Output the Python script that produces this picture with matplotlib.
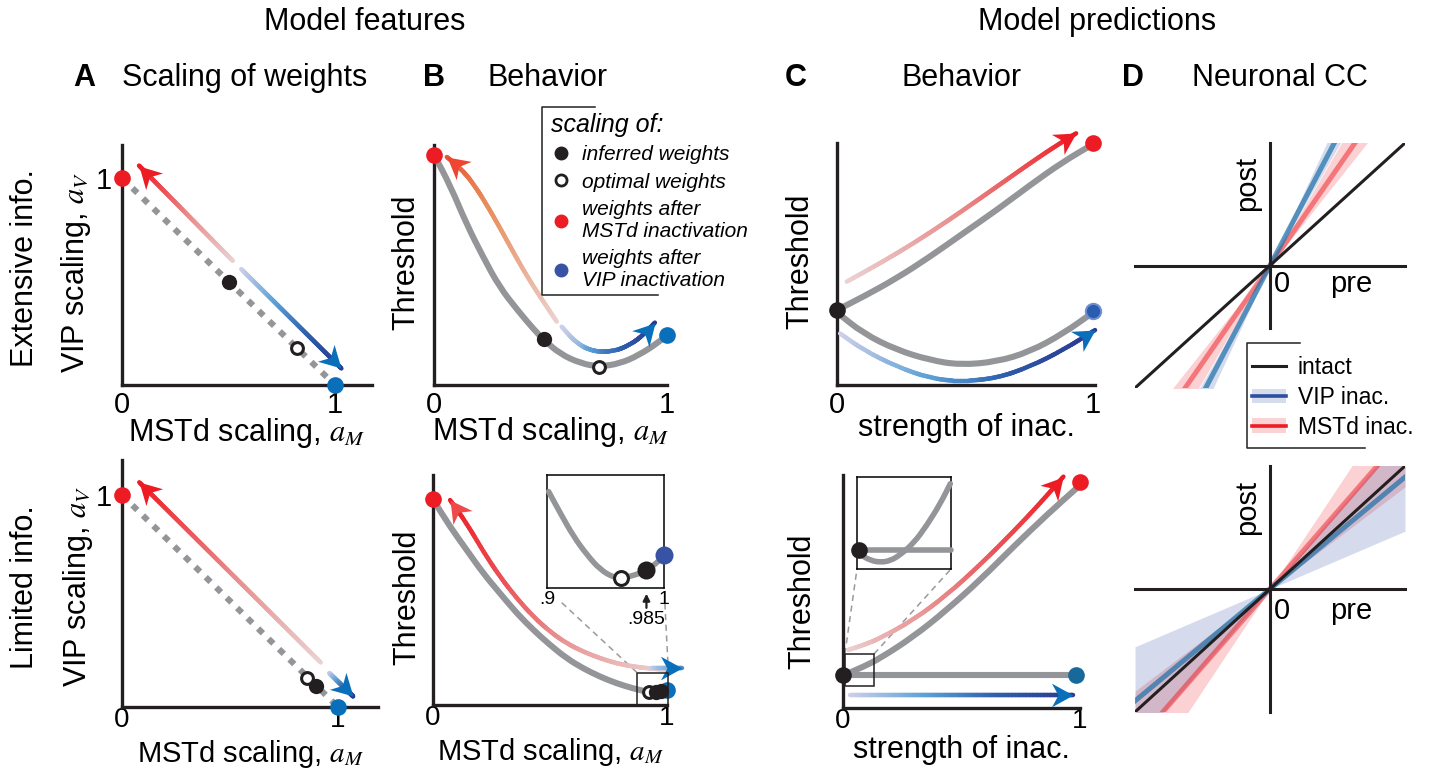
import numpy as np
import matplotlib
matplotlib.use('Agg')
import matplotlib.pyplot as plt
from matplotlib.collections import LineCollection
from matplotlib.colors import LinearSegmentedColormap
from matplotlib.lines import Line2D
from matplotlib.markers import MarkerStyle
from matplotlib.patches import Patch, Rectangle
from matplotlib.path import Path
from matplotlib.transforms import Affine2D

plt.rcParams['font.family'] = ['Liberation Sans', 'DejaVu Sans']
plt.rcParams['mathtext.fontset'] = 'stix'

W, H = 1430, 771

# ---------------- values ----------------
# A: scaling of weights, x = MSTd scaling a_M, y = VIP scaling a_V
a_diag_m = [0.0, 1.0]
a_diag_v = [1.0, 0.0]
a_top_inferred = [0.50, 0.50]
a_top_optimal = [0.82, 0.18]
a_top_red_m = [0.52, 0.08]
a_top_red_v = [0.60, 1.06]
a_top_blue_m = [0.56, 1.03]
a_top_blue_v = [0.56, 0.08]
a_bot_inferred = [0.90, 0.10]
a_bot_optimal = [0.855, 0.135]
a_bot_red_m = [0.92, 0.08]
a_bot_red_v = [0.21, 1.06]
a_bot_blue_m = [0.96, 1.07]
a_bot_blue_v = [0.16, 0.05]

# B: threshold vs MSTd scaling
b_top_am = [0, .07, .14, .21, .28, .36, .43, .47, .54, .63, .71, .80, .88, .96, 1.0]
b_top_thr = [.96, .83, .67, .535, .41, .31, .23, .19, .13, .09, .076, .09, .125, .175, .21]
b_top_inferred = [0.47, 0.19]
b_top_optimal = [0.71, 0.076]
b_top_mstd = [0.0, 0.96]
b_top_vip = [1.0, 0.21]
b_top_red_x = [.527, .455, .383, .312, .240, .169, .112, .055]
b_top_red_y = [.264, .368, .479, .604, .729, .840, .905, .950]
b_top_blue_x = [.548, .611, .684, .770, .841, .898, .948]
b_top_blue_y = [.243, .174, .139, .139, .167, .208, .260]

b_bot_am = [0, .073, .144, .215, .286, .358, .429, .5, .571, .642, .714, .785, .856, .913, .977, 1.0]
b_bot_thr = [.894, .775, .674, .572, .486, .399, .326, .261, .203, .159, .123, .094, .072, .058, .058, .065]
b_bot_optimal = [0.925, 0.058]
b_bot_inferred_x = [0.955, 0.975]
b_bot_inferred_y = [0.058, 0.060]
b_bot_mstd = [0.0, 0.894]
b_bot_vip = [1.0, 0.065]
b_bot_red_x = [.999, .927, .856, .785, .714, .642, .571, .5, .429, .358, .286, .215, .144, .073]
b_bot_red_y = [.152, .159, .167, .181, .203, .232, .268, .319, .384, .464, .558, .667, .790, .891]
b_bot_blue_x = [.93, 1.0, 1.063]
b_bot_blue_y = [.16, .16, .16]

b_ins_am = [.9014, .9114, .9227, .9341, .9455, .9568, .9631, .9739, .9852, .9938, 1.0]
b_ins_thr = [.853, .662, .456, .294, .162, .094, .088, .109, .156, .221, .291]
b_ins_optimal = [0.963, 0.088]
b_ins_inferred = [0.985, 0.156]
b_ins_vip = [1.0, 0.291]

# C: threshold vs strength of inactivation
c_top_s = [0, .103, .233, .363, .493, .624, .754, .884, .995]
c_top_mstd_thr = [.31, .365, .441, .530, .627, .723, .826, .923, .992]
c_top_vip_s = [0, .103, .233, .363, .48, .624, .754, .884, .995]
c_top_vip_thr = [.30, .213, .145, .103, .083, .096, .138, .213, .296]
c_top_red_x = [.038, .168, .298, .428, .559, .689, .819, .934]
c_top_red_y = [.427, .503, .585, .675, .771, .868, .964, 1.04]
c_top_blue_x = [.012, .103, .233, .363, .48, .624, .754, .884, 1.008]
c_top_blue_y = [.213, .145, .076, .028, .014, .028, .076, .145, .227]
c_top_intact = [0.0, 0.31]
c_top_mstd_end = [1.0, 1.0]
c_top_vip_end = [1.0, 0.306]

c_bot_s = [.005, .086, .156, .297, .438, .578, .719, .859, .993]
c_bot_mstd_thr = [.142, .177, .213, .306, .421, .549, .692, .828, .950]
c_bot_vip_s = [0.0, 0.985]
c_bot_vip_thr = [0.142, 0.142]
c_bot_red_x = [.022, .086, .156, .297, .438, .578, .719, .831, .93]
c_bot_red_y = [.249, .270, .299, .378, .485, .614, .757, .878, .993]
c_bot_blue_x = [.03, .972]
c_bot_blue_y = [.056, .056]
c_bot_intact = [0.0, 0.142]
c_bot_mstd_end = [1.0, 0.969]
c_bot_vip_end = [0.985, 0.142]

c_ins_x = [.018, .035, .142, .248, .355, .461, .603, .745, .887, .993]
c_ins_y = [.209, .155, .094, .072, .090, .155, .281, .478, .712, .928]
c_ins_flat_x = [.018, 1.0]
c_ins_flat_y = [.209, .209]

# D: neuronal CC slopes (post vs pre)
d_intact_slope = 1.0
d_top_vip = 2.10
d_top_vip_band = (1.92, 2.38)
d_top_mstd = 1.59
d_top_mstd_band = (1.39, 1.89)
d_bot_vip = 0.91
d_bot_vip_band = (0.47, 1.27)
d_bot_mstd = 1.26
d_bot_mstd_band = (0.83, 1.65)

# ---------------- styling ----------------
RED = '#ed1c24'
BLUE = '#0a6fba'
VIP_DOT = '#3953a4'
TEAL = '#17699a'
GREY = '#939598'
INK = '#231f20'
RED_GRAD = ['#ecd2d2', '#e88a8a', '#ed1c24']
ORANGE_GRAD = ['#ecd2d2', '#e8905f', '#e85530']
BLUE_GRAD = ['#cfd0ea', '#5fa2d6', '#2e5fae', '#2b3990']

fig = plt.figure(figsize=(W / 100, H / 100), dpi=100)


def px_axes(x0, y0, x1, y1):
    return fig.add_axes([x0 / W, 1 - y1 / H, (x1 - x0) / W, (y1 - y0) / H])


def fig_text(x, y, s, **kw):
    fig.text(x / W, 1 - y / H, s, ha='center', va='center', **kw)


def fig_line(xs, ys, **kw):
    fig.add_artist(Line2D([x / W for x in xs], [1 - y / H for y in ys],
                          transform=fig.transFigure, color=INK, lw=1.1, **kw))


def plain(ax):
    for s in ['top', 'right']:
        ax.spines[s].set_visible(False)
    for s in ['left', 'bottom']:
        ax.spines[s].set_linewidth(2.4)
        ax.spines[s].set_color(INK)
    ax.tick_params(length=0, labelsize=21, pad=4)
    ax.set_yticks([])


def bottom_row(ax):
    # the lower row sits close to the figure edge: tighter tick labels
    ax.tick_params(axis='x', labelsize=20, pad=0)


def smooth(ax, xs, ys):
    # quadratic bezier through the midpoints, flattened by matplotlib itself
    pts = np.column_stack([xs, ys]).astype(float)
    if len(pts) < 3:
        return pts[:, 0], pts[:, 1]
    verts = [pts[0], (pts[0] + pts[1]) / 2]
    codes = [Path.MOVETO, Path.LINETO]
    for i in range(1, len(pts) - 1):
        verts += [pts[i], (pts[i] + pts[i + 1]) / 2]
        codes += [Path.CURVE3, Path.CURVE3]
    verts.append(pts[-1])
    codes.append(Path.LINETO)
    poly = Path(verts, codes).to_polygons(transform=ax.transData, closed_only=False)[0]
    fine = ax.transData.inverted().transform(poly)
    return fine[:, 0], fine[:, 1]


def grad_line(ax, xs, ys, colors, lw=3.2, z=4):
    xs, ys = smooth(ax, xs, ys)
    k = max(6, 160 // (len(xs) - 1))
    fx = np.concatenate([np.linspace(xs[i], xs[i + 1], k, endpoint=False)
                         for i in range(len(xs) - 1)] + [xs[-1:]])
    fy = np.concatenate([np.linspace(ys[i], ys[i + 1], k, endpoint=False)
                         for i in range(len(ys) - 1)] + [ys[-1:]])
    pts = np.column_stack([fx, fy]).reshape(-1, 1, 2)
    segs = np.concatenate([pts[:-1], pts[1:]], axis=1)
    cmap = LinearSegmentedColormap.from_list('g', colors)
    lc = LineCollection(segs, colors=cmap(np.linspace(0, 1, len(segs))),
                        linewidths=lw, capstyle='round', zorder=z)
    lc.set_clip_on(False)
    ax.add_collection(lc)


HEAD = Path([(0, 0), (-1.0, 0.55), (-0.7, 0), (-1.0, -0.55), (0, 0)],
            [Path.MOVETO, Path.LINETO, Path.LINETO, Path.LINETO, Path.CLOSEPOLY])


def head(ax, xs, ys, color, size=31):
    p0 = ax.transData.transform((xs[-2], ys[-2]))
    p1 = ax.transData.transform((xs[-1], ys[-1]))
    ang = np.degrees(np.arctan2(p1[1] - p0[1], p1[0] - p0[0]))
    m = MarkerStyle(HEAD, transform=Affine2D().rotate_deg(ang))
    ax.plot(xs[-1], ys[-1], marker=m, ms=size, color=color, mec='none',
            ls='none', clip_on=False, zorder=7)


def arrow(ax, xs, ys, colors, head_color):
    grad_line(ax, xs, ys, colors)
    head(ax, xs, ys, head_color)


def dot(ax, x, y, color, ms=11):
    ax.plot(x, y, 'o', color=color, ms=ms, mec='none', ls='none',
            clip_on=False, zorder=8)


def open_dot(ax, x, y, ms=8.5):
    ax.plot(x, y, 'o', mfc='white', mec=INK, mew=2.2, ms=ms, clip_on=False, zorder=8)


def grey(ax, x, y, lw=4.4):
    fx, fy = smooth(ax, x, y)
    ax.plot(fx, fy, color=GREY, lw=lw, solid_capstyle='round',
            solid_joinstyle='round', clip_on=False, zorder=3)


# ---------------- A ----------------
def panel_a(ax, inferred, optimal, red_m, red_v, blue_m, blue_v, ylab_x, ylab_y):
    plain(ax)
    ax.plot(a_diag_m, a_diag_v, color=GREY, lw=4.4, ls=(0, (1.1, 1.3)), zorder=2)
    arrow(ax, red_m, red_v, RED_GRAD, RED)
    arrow(ax, blue_m, blue_v, BLUE_GRAD, BLUE)
    dot(ax, 0, 1, RED, 12)
    dot(ax, 1, 0, BLUE, 12)
    open_dot(ax, optimal[0], optimal[1])
    dot(ax, inferred[0], inferred[1], INK, 11)
    ax.set_xticks([0, 1], ['0', '1'])
    ax.set_yticks([1], ['1'])
    ax.tick_params(axis='y', pad=7)
    ax.set_ylabel('VIP scaling, $a_V$', fontsize=22)
    ax.yaxis.set_label_coords(ylab_x, ylab_y)


ax = px_axes(122, 145, 372, 385)
ax.set_xlim(0, 250 / 213)
ax.set_ylim(0, 240 / 207)
panel_a(ax, a_top_inferred, a_top_optimal, a_top_red_m, a_top_red_v,
        a_top_blue_m, a_top_blue_v, -0.115, 0.47)
ax.set_xlabel('MSTd scaling, $a_M$', fontsize=22)
ax.xaxis.set_label_coords(0.5, -0.13)

ax = px_axes(122, 460, 378, 707)
ax.set_xlim(0, 256 / 216)
ax.set_ylim(0, 247 / 212)
panel_a(ax, a_bot_inferred, a_bot_optimal, a_bot_red_m, a_bot_red_v,
        a_bot_blue_m, a_bot_blue_v, -0.105, 0.49)
bottom_row(ax)
ax.set_xlabel('MSTd scaling, $a_M$', fontsize=21)
ax.xaxis.set_label_coords(0.5, -0.125)

# ---------------- B ----------------
ax = px_axes(434, 145, 667, 385)
ax.set_xlim(0, 1)
ax.set_ylim(0, 1)
plain(ax)
grey(ax, b_top_am, b_top_thr)
arrow(ax, b_top_red_x, b_top_red_y, ORANGE_GRAD, '#ee4630')
arrow(ax, b_top_blue_x, b_top_blue_y, BLUE_GRAD, BLUE)
dot(ax, *b_top_mstd, RED, 12)
dot(ax, *b_top_vip, BLUE, 12)
dot(ax, *b_top_inferred, INK, 11)
open_dot(ax, *b_top_optimal)
ax.set_xticks([0, 1], ['0', '1'])
ax.set_xlabel('MSTd scaling, $a_M$', fontsize=22)
ax.set_ylabel('Threshold', fontsize=22)
ax.xaxis.set_label_coords(0.5, -0.125)
ax.yaxis.set_label_coords(-0.056, 0.51)

leg_handles = [
    Line2D([], [], ls='none', marker='o', color=INK, ms=9),
    Line2D([], [], ls='none', marker='o', mfc='white', mec=INK, mew=2, ms=8),
    Line2D([], [], ls='none', marker='o', color=RED, ms=9),
    Line2D([], [], ls='none', marker='o', color=VIP_DOT, ms=9),
]
leg_labels = ['inferred weights', 'optimal weights',
              'weights after\nMSTd inactivation', 'weights after\nVIP inactivation']
leg = fig.legend(leg_handles, leg_labels, loc='upper left',
                 bbox_to_anchor=(551 / W, 1 - 113 / H), frameon=False,
                 prop=dict(style='italic', size=15), title='scaling of:',
                 title_fontproperties=dict(style='italic', size=18),
                 alignment='left', handlelength=1.0, handletextpad=0.5,
                 labelspacing=0.4, borderpad=0, borderaxespad=0)
for t in leg.get_texts():
    t.set_linespacing(1.2)
fig_line([595, 541.7, 541.7, 658], [106.7, 106.7, 295, 295])

ax = px_axes(433, 475, 667, 705)
ax.set_xlim(0, 1)
ax.set_ylim(0, 1)
plain(ax)
bottom_row(ax)
grey(ax, b_bot_am, b_bot_thr)
arrow(ax, b_bot_red_x, b_bot_red_y, RED_GRAD, '#ee4a4a')
arrow(ax, b_bot_blue_x, b_bot_blue_y, ['#c8d4ee', '#4b8fcf'], BLUE)
dot(ax, *b_bot_vip, BLUE, 12)
dot(ax, *b_bot_mstd, RED, 12)
open_dot(ax, *b_bot_optimal)
dot(ax, b_bot_inferred_x, b_bot_inferred_y, INK, 11)
ax.add_patch(Rectangle((0.872, 0), 0.132, 0.139, fill=False, lw=1.1,
                       ec=INK, clip_on=False, zorder=9))
ax.plot([0.55, 0.873], [0.445, 0.140], color='#9a9a9a', lw=1.1,
        ls=(0, (4, 3)), clip_on=False)
ax.plot([0.991, 1.006], [0.442, 0.140], color='#9a9a9a', lw=1.1,
        ls=(0, (4, 3)), clip_on=False)
ax.set_xticks([0, 1], ['0', '1'])
ax.set_xlabel('MSTd scaling, $a_M$', fontsize=21)
ax.set_ylabel('Threshold', fontsize=22)
ax.xaxis.set_label_coords(0.5, -0.135)
ax.yaxis.set_label_coords(-0.047, 0.47)

ins = px_axes(547, 475, 664, 588)
ins.set_xlim(0.9, 1.0)
ins.set_ylim(0, 1)
for s in ins.spines.values():
    s.set_linewidth(1.1)
ins.set_yticks([])
ins.set_xticks([0.9, 1.0], ['.9', '1'])
ins.tick_params(length=0, labelsize=14, pad=2)
grey(ins, b_ins_am, b_ins_thr, lw=4.0)
open_dot(ins, *b_ins_optimal, ms=10)
dot(ins, *b_ins_inferred, INK, 13)
dot(ins, *b_ins_vip, VIP_DOT, 13)
ins.annotate('.985', xy=(0.985, -0.05), xytext=(0.985, -0.2),
             ha='center', va='top', fontsize=14, annotation_clip=False,
             arrowprops=dict(arrowstyle='-|>', color=INK, lw=1.6,
                             mutation_scale=10, shrinkA=0, shrinkB=0))

# ---------------- C ----------------
ax = px_axes(837, 143, 1095, 385)
ax.set_xlim(0, 258 / 256)
ax.set_ylim(0, 1)
plain(ax)
grey(ax, c_top_s, c_top_mstd_thr)
grey(ax, c_top_vip_s, c_top_vip_thr)
arrow(ax, c_top_red_x, c_top_red_y, RED_GRAD, RED)
arrow(ax, c_top_blue_x, c_top_blue_y, BLUE_GRAD, BLUE)
dot(ax, *c_top_intact, INK, 12)
dot(ax, *c_top_mstd_end, RED, 12)
ax.plot(*c_top_vip_end, 'o', color='#2a5cb0', mec='#6f8fd0', mew=1.5, ms=11,
        clip_on=False, zorder=8)
ax.set_xticks([0, 1], ['0', '1'])
ax.set_xlabel('strength of inac.', fontsize=22)
ax.set_ylabel('Threshold', fontsize=22)
ax.xaxis.set_label_coords(0.5, -0.115)
ax.yaxis.set_label_coords(-0.085, 0.51)

ax = px_axes(843, 475, 1080, 708)
ax.set_xlim(0, 237 / 238)
ax.set_ylim(0, 1)
plain(ax)
bottom_row(ax)
grey(ax, c_bot_s, c_bot_mstd_thr)
grey(ax, c_bot_vip_s, c_bot_vip_thr)
arrow(ax, c_bot_red_x, c_bot_red_y, RED_GRAD, RED)
arrow(ax, c_bot_blue_x, c_bot_blue_y, BLUE_GRAD, BLUE)
dot(ax, *c_bot_intact, INK, 12)
dot(ax, *c_bot_mstd_end, RED, 12)
dot(ax, *c_bot_vip_end, TEAL, 12)
ax.add_patch(Rectangle((0.008, 0.094), 0.123, 0.138, fill=False, lw=1.1,
                       ec=INK, clip_on=False, zorder=9))
ax.plot([0.008, 0.059], [0.232, 0.597], color='#9a9a9a', lw=1.1,
        ls=(0, (4, 3)), clip_on=False)
ax.plot([0.131, 0.456], [0.232, 0.597], color='#9a9a9a', lw=1.1,
        ls=(0, (4, 3)), clip_on=False)
ax.set_xticks([0, 1], ['0', '1'])
ax.set_xlabel('strength of inac.', fontsize=22)
ax.set_ylabel('Threshold', fontsize=22)
ax.xaxis.set_label_coords(0.5, -0.118)
ax.yaxis.set_label_coords(-0.11, 0.46)

ins = px_axes(857, 477, 951, 569)
ins.set_xlim(0, 1)
ins.set_ylim(0, 1)
for s in ins.spines.values():
    s.set_linewidth(1.1)
ins.set_xticks([])
ins.set_yticks([])
grey(ins, c_ins_flat_x, c_ins_flat_y, lw=4.0)
grey(ins, c_ins_x, c_ins_y, lw=4.0)
dot(ins, c_ins_x[0], c_ins_y[0], INK, 12)


# ---------------- D ----------------
def panel_d(ax, vip, vip_band, mstd, mstd_band, v_bottom):
    ax.set_xlim(-1, 1)
    ax.set_ylim(-1, 1)
    ax.axis('off')
    x = np.array([-1.0, 0.0, 1.0])
    ax.fill_between(x, mstd_band[0] * x, mstd_band[1] * x, color=RED,
                    alpha=0.2, lw=0)
    ax.fill_between(x, vip_band[0] * x, vip_band[1] * x, color='#2e4fa0',
                    alpha=0.2, lw=0)
    ax.plot(x, mstd * x, color=RED, alpha=0.5, lw=3.6)
    ax.plot(x, vip * x, color='#1b6fa8', alpha=0.7, lw=3.6)
    ax.plot(x, d_intact_slope * x, color=INK, lw=2.2)
    ax.plot([-1, 1], [0, 0], color=INK, lw=2.2, clip_on=False)
    ax.plot([0, 0], [v_bottom, 1], color=INK, lw=2.2, clip_on=False)


ax = px_axes(1135, 143, 1405, 388)
panel_d(ax, d_top_vip, d_top_vip_band, d_top_mstd, d_top_mstd_band, -0.51)
ax.text(-0.17, 0.67, 'post', rotation=90, ha='center', va='center', fontsize=21)
ax.text(0.09, -0.15, '0', ha='center', va='center', fontsize=21)
ax.text(0.6, -0.15, 'pre', ha='center', va='center', fontsize=21)

ax = px_axes(1135, 466, 1405, 712)
panel_d(ax, d_bot_vip, d_bot_vip_band, d_bot_mstd, d_bot_mstd_band, -1.0)
ax.text(-0.17, 0.66, 'post', rotation=90, ha='center', va='center', fontsize=21)
ax.text(0.09, -0.18, '0', ha='center', va='center', fontsize=21)
ax.text(0.6, -0.18, 'pre', ha='center', va='center', fontsize=21)

d_handles = [
    Line2D([], [], color=INK, lw=2.2),
    (Patch(facecolor='#d5dcec', edgecolor='none'), Line2D([], [], color='#2e4fa0', lw=2.6)),
    (Patch(facecolor='#fad2d4', edgecolor='none'), Line2D([], [], color=RED, lw=2.6)),
]
fig.legend(d_handles, ['intact', 'VIP inac.', 'MSTd inac.'], loc='upper left',
           bbox_to_anchor=(1252 / W, 1 - 356 / H), frameon=False, fontsize=16.5,
           handlelength=1.5, handleheight=0.6, handletextpad=0.5,
           labelspacing=0.3, borderpad=0, borderaxespad=0)
fig_line([1300, 1247, 1247, 1365], [343, 343, 448, 448])

# ---------------- titles ----------------
fig_text(365, 22, 'Model features', fontsize=22)
fig_text(1097, 22, 'Model predictions', fontsize=22)
for x, s in [(84, 'A'), (434, 'B'), (796, 'C'), (1133, 'D')]:
    fig_text(x, 78, s, fontsize=22, fontweight='bold')
for x, s in [(245, 'Scaling of weights'), (548, 'Behavior'),
             (962, 'Behavior'), (1280, 'Neuronal CC')]:
    fig_text(x, 78, s, fontsize=22)
fig_text(25, 268, 'Extensive info.', fontsize=22, rotation=90)
fig_text(25, 587, 'Limited info.', fontsize=22, rotation=90)

fig.savefig('out.png', dpi=100)
